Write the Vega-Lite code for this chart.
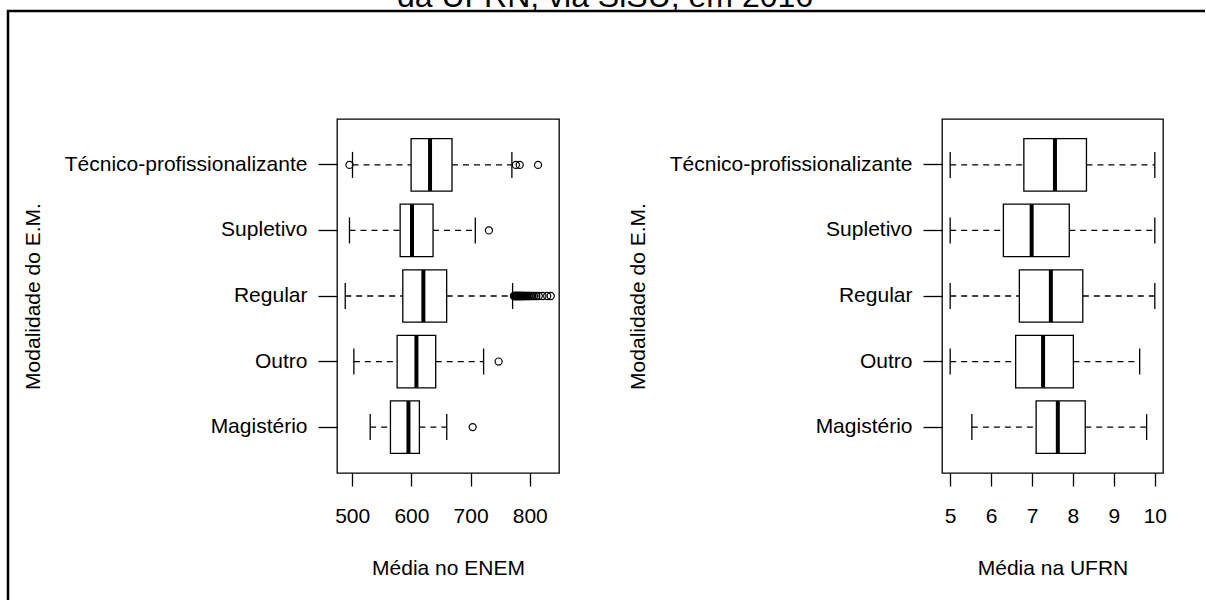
{
  "$schema": "https://vega.github.io/schema/vega-lite/v6.json",
  "padding": {"left": 6, "top": 0, "right": 0, "bottom": 0},
  "autosize": {"type": "pad"},
  "background": "white",
  "config": {
    "font": "Liberation Sans",
    "view": {"stroke": null},
    "axis": {
      "domain": false,
      "grid": false,
      "tickColor": "black",
      "tickWidth": 1.3,
      "labelColor": "black",
      "labelFontSize": 21,
      "labelFont": "Liberation Sans",
      "labelLimit": 500,
      "labelOverlap": false,
      "labelBound": false,
      "labelFlush": false,
      "titleColor": "black",
      "titleFontSize": 21,
      "titleFontWeight": "normal",
      "titleFont": "Liberation Sans"
    },
    "axisX": {"tickSize": 13, "labelPadding": 19, "titlePadding": 31},
    "axisY": {"tickSize": 19, "labelPadding": 11, "titlePadding": 94}
  },
  "datasets": {
    "enem": [
      {"modalidade": "Técnico-profissionalizante", "lo": 500.5, "q1": 599.5, "med": 631.5, "q3": 668.6, "hi": 769.8},
      {"modalidade": "Supletivo", "lo": 495.4, "q1": 581.0, "med": 601.0, "q3": 636.6, "hi": 708.0},
      {"modalidade": "Regular", "lo": 488.2, "q1": 585.5, "med": 620.2, "q3": 659.6, "hi": 771.0},
      {"modalidade": "Outro", "lo": 502.8, "q1": 575.9, "med": 608.5, "q3": 641.1, "hi": 722.0},
      {"modalidade": "Magistério", "lo": 530.4, "q1": 564.6, "med": 595.0, "q3": 613.5, "hi": 659.7}
    ],
    "enemOut": [
      {"modalidade": "Técnico-profissionalizante", "nota": 495.4},
      {"modalidade": "Técnico-profissionalizante", "nota": 776.5},
      {"modalidade": "Técnico-profissionalizante", "nota": 783.0},
      {"modalidade": "Técnico-profissionalizante", "nota": 814.0},
      {"modalidade": "Supletivo", "nota": 731.0},
      {"modalidade": "Outro", "nota": 747.4},
      {"modalidade": "Magistério", "nota": 703.5},
      {"modalidade": "Regular", "nota": 773.2},
      {"modalidade": "Regular", "nota": 774.0},
      {"modalidade": "Regular", "nota": 775.1},
      {"modalidade": "Regular", "nota": 776.3},
      {"modalidade": "Regular", "nota": 777.0},
      {"modalidade": "Regular", "nota": 778.4},
      {"modalidade": "Regular", "nota": 779.2},
      {"modalidade": "Regular", "nota": 780.5},
      {"modalidade": "Regular", "nota": 781.3},
      {"modalidade": "Regular", "nota": 782.6},
      {"modalidade": "Regular", "nota": 783.4},
      {"modalidade": "Regular", "nota": 784.8},
      {"modalidade": "Regular", "nota": 785.5},
      {"modalidade": "Regular", "nota": 786.9},
      {"modalidade": "Regular", "nota": 788.1},
      {"modalidade": "Regular", "nota": 789.4},
      {"modalidade": "Regular", "nota": 790.7},
      {"modalidade": "Regular", "nota": 792.2},
      {"modalidade": "Regular", "nota": 793.9},
      {"modalidade": "Regular", "nota": 795.6},
      {"modalidade": "Regular", "nota": 797.8},
      {"modalidade": "Regular", "nota": 799.5},
      {"modalidade": "Regular", "nota": 802.1},
      {"modalidade": "Regular", "nota": 804.7},
      {"modalidade": "Regular", "nota": 807.3},
      {"modalidade": "Regular", "nota": 811.0},
      {"modalidade": "Regular", "nota": 815.2},
      {"modalidade": "Regular", "nota": 821.5},
      {"modalidade": "Regular", "nota": 829.4},
      {"modalidade": "Regular", "nota": 835.5}
    ],
    "ufrn": [
      {"modalidade": "Técnico-profissionalizante", "lo": 5.0, "q1": 6.80, "med": 7.56, "q3": 8.33, "hi": 10.0},
      {"modalidade": "Supletivo", "lo": 5.0, "q1": 6.30, "med": 6.99, "q3": 7.91, "hi": 10.0},
      {"modalidade": "Regular", "lo": 5.0, "q1": 6.69, "med": 7.46, "q3": 8.24, "hi": 10.0},
      {"modalidade": "Outro", "lo": 5.0, "q1": 6.60, "med": 7.27, "q3": 8.01, "hi": 9.63},
      {"modalidade": "Magistério", "lo": 5.53, "q1": 7.10, "med": 7.63, "q3": 8.30, "hi": 9.80}
    ]
  },
  "bounds": "flush",
  "spacing": 0,
  "vconcat": [
    {
      "width": 1194,
      "height": 11,
      "data": {"values": [{"texto": "da UFRN, via SiSU, em 2016"}]},
      "mark": {"type": "text", "clip": true, "fontSize": 32, "baseline": "alphabetic", "align": "center", "dy": 1, "color": "black"},
      "encoding": {"text": {"field": "texto", "type": "nominal"}}
    },
    {
      "bounds": "flush",
      "spacing": 0,
      "hconcat": [
        {
          "width": 329,
          "height": 589,
          "view": {"stroke": "black", "strokeWidth": 2.5, "strokeDash": [329, 918, 600]},
          "data": {"values": []},
          "mark": "rule",
          "encoding": {}
        },
        {
          "bounds": "flush",
          "spacing": 0,
          "vconcat": [
            {
              "width": 868,
              "height": 108,
              "view": {"stroke": "black", "strokeWidth": 2.5, "strokeDash": [868, 2000]},
              "data": {"values": []},
              "mark": "rule",
              "encoding": {}
            },
            {
              "bounds": "flush",
              "spacing": 383,
              "hconcat": [
                {
                  "width": 222,
                  "height": 354,
                  "view": {"stroke": "black", "strokeWidth": 1.3},
                  "encoding": {
                    "y": {
                      "field": "modalidade", "type": "nominal",
                      "sort": ["Técnico-profissionalizante", "Supletivo", "Regular", "Outro", "Magistério"],
                      "scale": {"paddingInner": 0, "paddingOuter": 0.2},
                      "axis": {"title": "Modalidade do E.M."}
                    }
                  },
                  "layer": [
                    {
                      "data": {"name": "enem"},
                      "mark": {"type": "rule", "color": "black", "strokeWidth": 1.3, "strokeDash": [6, 5]},
                      "encoding": {
                        "x": {
                          "field": "lo", "type": "quantitative",
                          "scale": {"domain": [474.3, 849.4], "nice": false, "zero": false},
                          "axis": {
                            "title": "Média no ENEM",
                            "values": [500, 550, 600, 650, 700, 750, 800],
                            "labelExpr": "datum.value % 100 === 0 ? datum.label : ''"
                          }
                        },
                        "x2": {"field": "q1"}
                      }
                    },
                    {
                      "data": {"name": "enem"},
                      "mark": {"type": "rule", "color": "black", "strokeWidth": 1.3, "strokeDash": [6, 5]},
                      "encoding": {
                        "x": {"field": "q3", "type": "quantitative", "axis": {"title": "Média no ENEM"}},
                        "x2": {"field": "hi"}
                      }
                    },
                    {
                      "data": {"name": "enem"},
                      "mark": {"type": "tick", "color": "black", "size": 26, "thickness": 1.3, "opacity": 1},
                      "encoding": {"x": {"field": "lo", "type": "quantitative", "axis": {"title": "Média no ENEM"}}}
                    },
                    {
                      "data": {"name": "enem"},
                      "mark": {"type": "tick", "color": "black", "size": 26, "thickness": 1.3, "opacity": 1},
                      "encoding": {"x": {"field": "hi", "type": "quantitative", "axis": {"title": "Média no ENEM"}}}
                    },
                    {
                      "data": {"name": "enem"},
                      "mark": {"type": "bar", "height": {"band": 0.8}, "fill": "white", "stroke": "black", "strokeWidth": 1.3},
                      "encoding": {
                        "x": {"field": "q1", "type": "quantitative", "axis": {"title": "Média no ENEM"}},
                        "x2": {"field": "q3"}
                      }
                    },
                    {
                      "data": {"name": "enem"},
                      "mark": {"type": "tick", "color": "black", "size": 52, "thickness": 4, "opacity": 1},
                      "encoding": {"x": {"field": "med", "type": "quantitative", "axis": {"title": "Média no ENEM"}}}
                    },
                    {
                      "data": {"name": "enemOut"},
                      "mark": {"type": "point", "shape": "circle", "filled": false, "size": 50, "strokeWidth": 1.2, "color": "black", "opacity": 1},
                      "encoding": {"x": {"field": "nota", "type": "quantitative", "axis": {"title": "Média no ENEM"}}}
                    }
                  ]
                },
                {
                  "width": 221,
                  "height": 354,
                  "view": {"stroke": "black", "strokeWidth": 1.3},
                  "data": {"name": "ufrn"},
                  "encoding": {
                    "y": {
                      "field": "modalidade", "type": "nominal",
                      "sort": ["Técnico-profissionalizante", "Supletivo", "Regular", "Outro", "Magistério"],
                      "scale": {"paddingInner": 0, "paddingOuter": 0.2},
                      "axis": {"title": "Modalidade do E.M."}
                    }
                  },
                  "layer": [
                    {
                      "mark": {"type": "rule", "color": "black", "strokeWidth": 1.3, "strokeDash": [6, 5]},
                      "encoding": {
                        "x": {
                          "field": "lo", "type": "quantitative",
                          "scale": {"domain": [4.8, 10.2], "nice": false, "zero": false},
                          "axis": {"title": "Média na UFRN", "values": [5, 6, 7, 8, 9, 10], "format": "d"}
                        },
                        "x2": {"field": "q1"}
                      }
                    },
                    {
                      "mark": {"type": "rule", "color": "black", "strokeWidth": 1.3, "strokeDash": [6, 5]},
                      "encoding": {
                        "x": {"field": "q3", "type": "quantitative", "axis": {"title": "Média na UFRN"}},
                        "x2": {"field": "hi"}
                      }
                    },
                    {
                      "mark": {"type": "tick", "color": "black", "size": 26, "thickness": 1.3, "opacity": 1},
                      "encoding": {"x": {"field": "lo", "type": "quantitative", "axis": {"title": "Média na UFRN"}}}
                    },
                    {
                      "mark": {"type": "tick", "color": "black", "size": 26, "thickness": 1.3, "opacity": 1},
                      "encoding": {"x": {"field": "hi", "type": "quantitative", "axis": {"title": "Média na UFRN"}}}
                    },
                    {
                      "mark": {"type": "bar", "height": {"band": 0.8}, "fill": "white", "stroke": "black", "strokeWidth": 1.3},
                      "encoding": {
                        "x": {"field": "q1", "type": "quantitative", "axis": {"title": "Média na UFRN"}},
                        "x2": {"field": "q3"}
                      }
                    },
                    {
                      "mark": {"type": "tick", "color": "black", "size": 52, "thickness": 4, "opacity": 1},
                      "encoding": {"x": {"field": "med", "type": "quantitative", "axis": {"title": "Média na UFRN"}}}
                    }
                  ]
                }
              ]
            }
          ]
        }
      ]
    }
  ]
}
